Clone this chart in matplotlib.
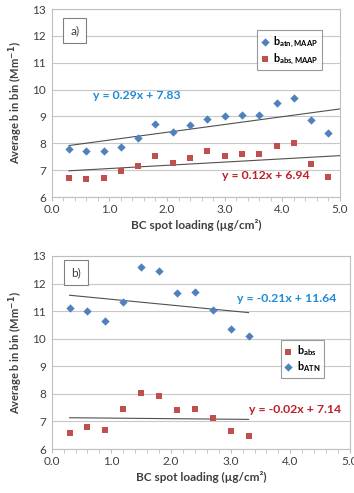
import matplotlib
matplotlib.use("Agg")
import matplotlib.pyplot as plt
import numpy as np
from matplotlib.ticker import MultipleLocator

plt.rcParams['font.family'] = ['Lato', 'DejaVu Sans']

# Panel a data
xa = [0.3, 0.6, 0.9, 1.2, 1.5, 1.8, 2.1, 2.4, 2.7, 3.0, 3.3, 3.6, 3.9, 4.2, 4.5, 4.8]
atn_maap = [7.80, 7.73, 7.72, 7.88, 8.18, 8.71, 8.43, 8.68, 8.91, 9.01, 9.04, 9.05, 9.51, 9.68, 8.85, 8.38]
abs_maap = [6.71, 6.67, 6.72, 6.98, 7.15, 7.52, 7.26, 7.47, 7.70, 7.54, 7.59, 7.61, 7.91, 8.02, 7.23, 6.76]
fit_a_blue = (0.29, 7.83)
fit_a_red = (0.12, 6.94)
fit_a_range = (0.3, 5.0)

# Panel b data
xb = [0.3, 0.6, 0.9, 1.2, 1.5, 1.8, 2.1, 2.4, 2.7, 3.0, 3.3]
b_atn = [11.13, 11.02, 10.66, 11.34, 12.60, 12.45, 11.67, 11.68, 11.03, 10.37, 10.09]
b_abs = [6.59, 6.81, 6.70, 7.46, 8.03, 7.91, 7.43, 7.44, 7.11, 6.64, 6.46]
fit_b_blue = (-0.21, 11.64)
fit_b_red = (-0.02, 7.14)
fit_b_range = (0.3, 3.3)

BLUE = '#4F81BD'
RED = '#C0504D'
EQ_BLUE = '#1F8BD6'
EQ_RED = '#C0202A'
TXT = '#404040'

W, H = 354, 493
fig = plt.figure(figsize=(W/100, H/100), dpi=100)

def ax_rect(l, r, t, b):
    return [l/W, 1 - b/H, (r-l)/W, (b-t)/H]

ax1 = fig.add_axes(ax_rect(51.7, 340, 9, 197))
ax2 = fig.add_axes(ax_rect(51.7, 350, 256, 449))

def style(ax):
    ax.set_xlim(0, 5)
    ax.set_ylim(6, 13)
    ax.xaxis.set_major_locator(MultipleLocator(1.0))
    ax.xaxis.set_minor_locator(MultipleLocator(0.2))
    ax.yaxis.set_major_locator(MultipleLocator(1))
    ax.grid(axis='y', color='#C8C8C8', lw=0.8)
    ax.set_axisbelow(True)
    for s in ax.spines.values():
        s.set_color('#BFBFBF')
        s.set_linewidth(0.8)
    ax.tick_params(axis='both', labelsize=8.5, colors='#BFBFBF', labelcolor=TXT, length=3, width=0.8, pad=2)
    ax.tick_params(axis='x', which='minor', length=3, width=0.6, colors='#BFBFBF')
    ax.tick_params(axis='y', length=0, pad=4)
    ax.set_xlabel('BC spot loading (µg/cm²)', fontsize=8.5, fontweight='bold', color=TXT, labelpad=3)
    ax.set_ylabel('Average b in bin (Mm$^{\\mathbf{-1}}$)', fontsize=8, fontweight='bold', color=TXT, labelpad=5)
    ticks = np.arange(0, 5.01, 1.0)
    ax.set_xticks(ticks)
    ax.set_xticklabels([f"{v:.1f}" for v in ticks])

def fitline(ax, fit, rng):
    xs = np.array(rng)
    ax.plot(xs, fit[0]*xs + fit[1], color='#505050', lw=0.8, zorder=2)

legkw = dict(frameon=True, fancybox=False, edgecolor='#808080', handlelength=0.7,
             handletextpad=0.45, borderpad=0.35, labelspacing=0.1,
             prop={'weight': 'bold', 'size': 7.8})

# Panel a
style(ax1)
ax1.scatter(xa, atn_maap, marker='D', s=18, color=BLUE, zorder=3, label='b$_{\\mathregular{atn,MAAP}}$', linewidths=0)
ax1.scatter(xa, abs_maap, marker='s', s=14, color=RED, zorder=3, label='b$_{\\mathregular{abs,MAAP}}$', linewidths=0)
fitline(ax1, fit_a_blue, fit_a_range)
fitline(ax1, fit_a_red, fit_a_range)
ax1.text(0.72, 9.77, 'y = 0.29x + 7.83', color=EQ_BLUE, fontsize=8.8, fontweight='bold', va='center')
ax1.text(2.95, 6.8, 'y = 0.12x + 6.94', color=EQ_RED, fontsize=8.8, fontweight='bold', va='center')
ax1.text(0.32, 12.2, 'a)', fontsize=8.5, color=TXT, va='center', ha='left',
         bbox=dict(boxstyle='square,pad=0.6', fc='white', ec='#808080', lw=0.8))
leg1 = ax1.legend(loc='upper right', bbox_to_anchor=(0.958, 0.915), **legkw)
leg1.get_frame().set_linewidth(0.8)

# Panel b
style(ax2)
ax2.scatter(xb, b_abs, marker='s', s=14, color=RED, zorder=3, label='b$_{\\mathregular{abs}}$', linewidths=0)
ax2.scatter(xb, b_atn, marker='D', s=18, color=BLUE, zorder=3, label='b$_{\\mathregular{ATN}}$', linewidths=0)
fitline(ax2, fit_b_blue, fit_b_range)
fitline(ax2, fit_b_red, fit_b_range)
ax2.text(3.1, 11.45, 'y = -0.21x + 11.64', color=EQ_BLUE, fontsize=8.8, fontweight='bold', va='center')
ax2.text(3.3, 7.42, 'y = -0.02x + 7.14', color=EQ_RED, fontsize=8.8, fontweight='bold', va='center')
ax2.text(0.32, 12.4, 'b)', fontsize=8.5, color=TXT, va='center', ha='left',
         bbox=dict(boxstyle='square,pad=0.6', fc='white', ec='#808080', lw=0.8))
leg2 = ax2.legend(loc='upper left', bbox_to_anchor=(0.749, 0.545 + 0.05), **legkw)
leg2.get_frame().set_linewidth(0.8)

fig.savefig('out.png', dpi=100)
